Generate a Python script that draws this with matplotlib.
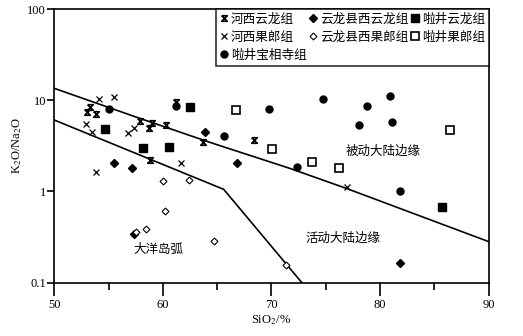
import matplotlib
matplotlib.use("Agg")
import matplotlib.pyplot as plt
from matplotlib.path import Path

plt.rcParams['font.family'] = ['Liberation Serif', 'Noto Sans CJK SC']
plt.rcParams['mathtext.fontset'] = 'stix'

# 分界线
upper_x = [50, 57.6, 64.6, 71.7, 76.9, 90]
upper_y = [13.5, 6.5, 3.37, 1.79, 1.08, 0.282]
lower_x = [50, 65.6, 72.8]
lower_y = [6.07, 1.055, 0.1]

# 数据点 (SiO2, K2O/Na2O)
hx_yl_x = [53.04, 53.28, 53.84, 57.92, 58.75, 58.96, 60.28, 58.81, 61.20, 63.72, 68.42]
hx_yl_y = [7.49, 8.36, 7.01, 5.92, 4.92, 5.58, 5.31, 2.21, 9.65, 3.48, 3.66]

hx_gl_x = [52.89, 53.44, 54.14, 55.46, 53.87, 56.75, 57.34, 61.67, 76.98]
hx_gl_y = [5.44, 4.45, 10.2, 10.9, 1.65, 4.41, 5.0, 2.03, 1.11]

ylx_yl_x = [55.46, 57.15, 63.84, 66.82, 57.34, 81.80]
ylx_yl_y = [2.07, 1.79, 4.45, 2.03, 0.339, 0.164]

ylx_gl_x = [60.04, 62.40, 60.19, 57.52, 58.41, 64.74, 71.34]
ylx_gl_y = [1.29, 1.32, 0.616, 0.356, 0.388, 0.289, 0.156]

lj_yl_x = [54.70, 58.14, 60.56, 62.49, 85.73]
lj_yl_y = [4.84, 3.02, 3.10, 8.43, 0.681]

lj_gl_x = [66.70, 70.02, 73.76, 76.25, 86.47]
lj_gl_y = [7.88, 2.90, 2.10, 1.79, 4.72]

lj_bx_x = [55.07, 61.17, 65.66, 69.74, 72.35, 74.71, 78.09, 78.83, 80.91, 81.13, 81.87]
lj_bx_y = [8.08, 8.65, 4.02, 8.08, 1.87, 10.4, 5.40, 8.57, 11.1, 5.82, 1.0]

# 沙漏形标记
hourglass = Path([(-1, 1), (1, 1), (-1, -1), (1, -1), (-1, 1)],
                 [Path.MOVETO, Path.LINETO, Path.LINETO, Path.LINETO, Path.LINETO])

fig = plt.figure(figsize=(5.23, 3.36), dpi=100)
ax = fig.add_axes([0.1038, 0.1586, 0.8306, 0.8146])

ax.plot(upper_x, upper_y, color='black', lw=1.2)
ax.plot(lower_x, lower_y, color='black', lw=1.2)

h1, = ax.plot(hx_yl_x, hx_yl_y, ls='none', marker=hourglass, ms=4, mfc='none', mec='black', mew=1.2, label='河西云龙组')
h2, = ax.plot(hx_gl_x, hx_gl_y, ls='none', marker='x', ms=4.5, mec='black', mew=0.9, label='河西果郎组')
h3, = ax.plot(lj_bx_x, lj_bx_y, ls='none', marker='o', ms=5, mfc='black', mec='black', label='啦井宝相寺组')
h4, = ax.plot(ylx_yl_x, ylx_yl_y, ls='none', marker='D', ms=4, mfc='black', mec='black', label='云龙县西云龙组')
h5, = ax.plot(ylx_gl_x, ylx_gl_y, ls='none', marker='D', ms=3.5, mfc='white', mec='black', mew=0.8, label='云龙县西果郎组')
h6, = ax.plot(lj_yl_x, lj_yl_y, ls='none', marker='s', ms=5.5, mfc='black', mec='black', label='啦井云龙组')
h7, = ax.plot(lj_gl_x, lj_gl_y, ls='none', marker='s', ms=6, mfc='white', mec='black', mew=1.2, label='啦井果郎组')

ax.set_yscale('log')
ax.set_xlim(50, 90)
ax.set_ylim(0.1, 100)
ax.set_yticks([0.1, 1, 10, 100])
ax.set_yticklabels(['0.1', '1', '10', '100'])
ax.minorticks_off()
ax.set_xticks([50, 60, 70, 80, 90])
ax.set_xticks([55, 65, 75, 85], minor=True)
ax.tick_params(axis='x', which='major', direction='out', length=9, width=1.2, labelsize=9, pad=3)
ax.tick_params(axis='x', which='minor', direction='out', length=5, width=1.2)
ax.tick_params(axis='y', which='major', direction='out', length=5, width=1.2, labelsize=9, pad=1)
for s in ax.spines.values():
    s.set_linewidth(1.2)

ax.set_xlabel('SiO$_2$/%', fontsize=9, labelpad=1)
ax.set_ylabel('K$_2$O/Na$_2$O', fontsize=9, labelpad=2)

cjk = ['Noto Sans CJK SC']
ax.text(80.3, 2.73, '被动大陆边缘', family=cjk, fontsize=9, ha='center', va='center')
ax.text(76.6, 0.306, '活动大陆边缘', family=cjk, fontsize=9, ha='center', va='center')
ax.text(59.6, 0.232, '大洋岛弧', family=cjk, fontsize=9, ha='center', va='center')

leg = ax.legend(handles=[h1, h2, h3, h4, h5, h6, h7], ncol=3, loc='upper right',
                prop={'family': cjk, 'size': 9.1}, frameon=True, fancybox=False,
                edgecolor='black', borderaxespad=0, handlelength=0.7, handletextpad=0.2,
                columnspacing=0.15, labelspacing=0.4, borderpad=0.3, numpoints=1)
leg.get_frame().set_linewidth(1.2)

fig.savefig('out.png', dpi=100)
